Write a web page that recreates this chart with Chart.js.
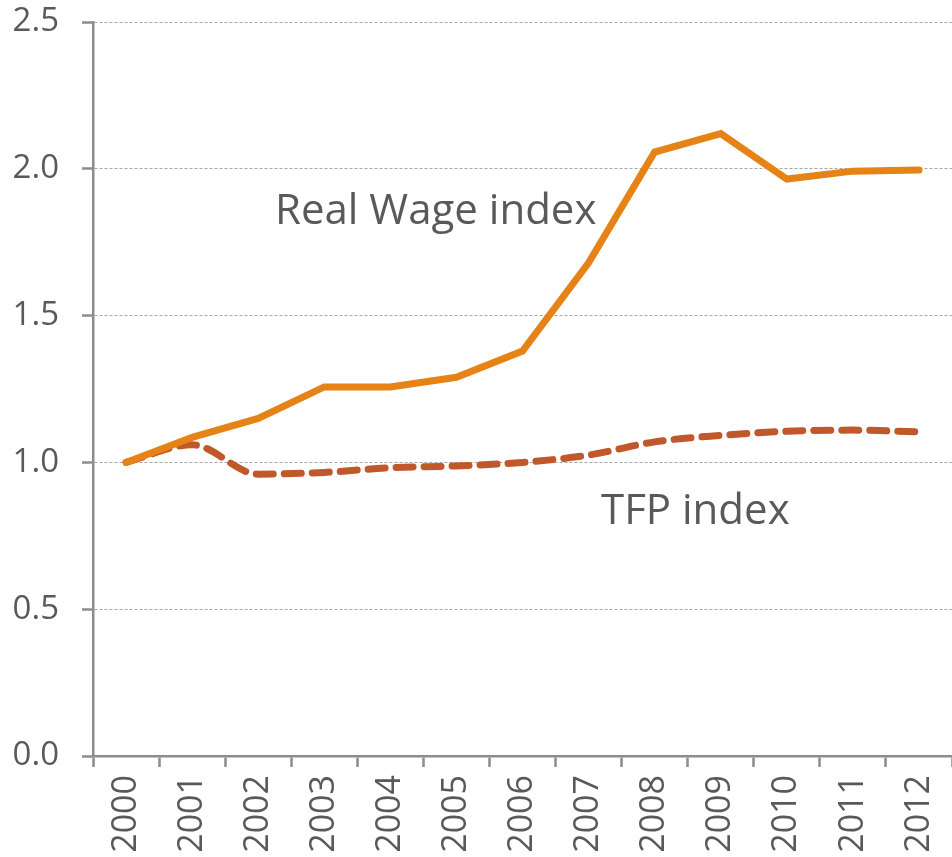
<!DOCTYPE html>
<html>
<head>
<meta charset="utf-8">
<script src="https://cdn.jsdelivr.net/npm/chart.js@4"></script>
<style>
  html, body { margin: 0; padding: 0; background: #fff; }
  #wrap { width: 952px; height: 857px; }
</style>
</head>
<body>
<div id="wrap"><canvas id="myChart"></canvas></div>
<script>
// data
const years = ['2000', '2001', '2002', '2003', '2004', '2005', '2006', '2007', '2008', '2009', '2010', '2011', '2012'];
const realWage = [1.0, 1.085, 1.15, 1.257, 1.257, 1.29, 1.379, 1.68, 2.057, 2.12, 1.965, 1.992, 1.996];
const tfp = [1.0, 1.06, 0.96, 0.966, 0.982, 0.988, 1.0, 1.025, 1.07, 1.092, 1.106, 1.11, 1.104];
const yTicks = [0, 0.5, 1.0, 1.5, 2.0, 2.5];
const notes = [
  { text: 'Real Wage index', x: 275, y: 224 },
  { text: 'TFP index', x: 601, y: 524 }
];

const textColor = '#595959';
const axisColor = '#8c8c8c';

// draws the two series names inside the plot
const labelPlugin = {
  id: 'seriesNotes',
  afterDatasetsDraw(chart) {
    const c = chart.ctx;
    c.save();
    c.font = "42px 'Open Sans'";
    c.fillStyle = textColor;
    c.textAlign = 'left';
    c.textBaseline = 'alphabetic';
    notes.forEach(n => c.fillText(n.text, n.x, n.y));
    c.restore();
  }
};

const ctx = document.getElementById('myChart');
new Chart(ctx, {
  type: 'line',
  data: {
    labels: years,
    datasets: [{
      label: 'Real Wage index',
      data: realWage,
      borderColor: '#e68316',
      borderWidth: 7,
      borderCapStyle: 'round',
      borderJoinStyle: 'miter',
      pointRadius: 0,
      tension: 0
    }, {
      label: 'TFP index',
      data: tfp,
      borderColor: '#c0582b',
      borderWidth: 7,
      borderDash: [17, 11],
      borderCapStyle: 'round',
      pointRadius: 0,
      cubicInterpolationMode: 'monotone'
    }]
  },
  options: {
    responsive: true,
    maintainAspectRatio: false,
    animation: false,
    layout: { padding: { top: 0, right: 0, bottom: 0, left: 0 } },
    scales: {
      x: {
        offset: true,
        grid: {
          display: true,
          drawOnChartArea: false,
          offset: true,
          tickLength: 11,
          tickColor: axisColor,
          tickWidth: 2.5
        },
        border: { display: true, color: axisColor, width: 2.5 },
        ticks: {
          maxRotation: 90,
          minRotation: 90,
          padding: 8,
          color: textColor,
          font: { family: "'Open Sans'", size: 34 }
        },
        afterFit(scale) {
          scale.height = 101;
          scale.paddingLeft = 0;
          scale.paddingRight = 0;
        }
      },
      y: {
        min: 0,
        max: 2.5,
        afterBuildTicks(scale) { scale.ticks = yTicks.map(v => ({ value: v })); },
        grid: {
          color: '#a6a6a6',
          lineWidth: 1,
          tickLength: 11,
          tickColor: axisColor,
          tickWidth: 2.5,
          tickBorderDash: []
        },
        border: { display: true, color: axisColor, width: 2.5, dash: [3, 2] },
        ticks: {
          padding: 23,
          color: textColor,
          font: { family: "'Open Sans'", size: 33 },
          callback: v => v.toFixed(1)
        },
        afterFit(scale) {
          scale.width = 93;
          scale.paddingTop = 22;
          scale.paddingBottom = 0;
        }
      }
    },
    plugins: {
      legend: { display: false },
      tooltip: { enabled: false }
    }
  },
  plugins: [labelPlugin]
});
</script>
</body>
</html>
